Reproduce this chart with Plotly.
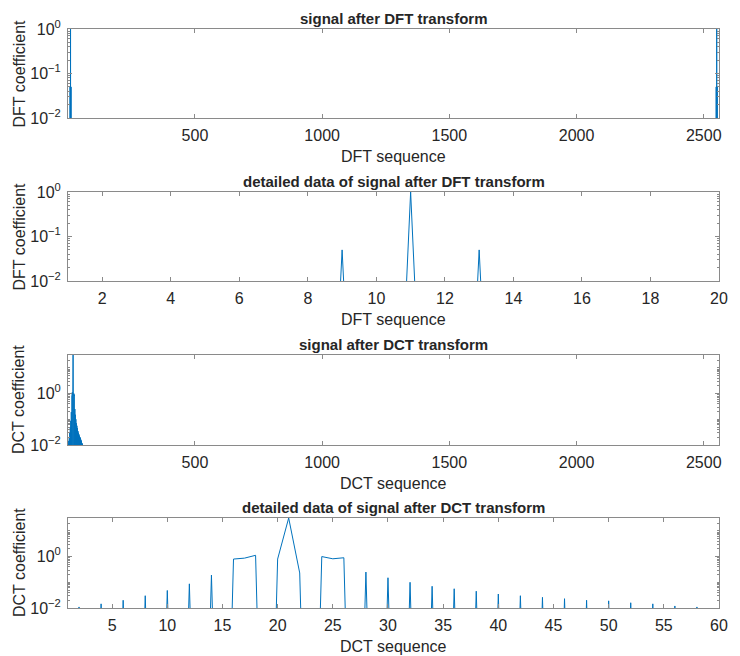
import numpy as np
import plotly.graph_objects as go

# ---------------- data ----------------
N = 2560
TINY_DFT = 1e-17
TINY_DCT = 1e-16

dft_peak_idx = [9, 11, 13, 2549, 2551, 2553]
dft_peak_val = [0.05, 1.0, 0.05, 0.05, 1.0, 0.05]

dct_detail_idx = list(range(1, 61))
dct_detail_val = [
    1e-16, 0.011, 1e-16, 0.0145, 1e-16, 0.020, 1e-16, 0.030, 1e-16, 0.048,
    1e-16, 0.087, 1e-16, 0.19, 1e-16, 0.80, 0.87, 1.12, 1e-16, 0.80,
    31.6, 0.23, 1e-16, 1.00, 0.82, 0.90, 1e-16, 0.25, 1e-16, 0.15,
    1e-16, 0.10, 1e-16, 0.070, 1e-16, 0.056, 1e-16, 0.045, 1e-16, 0.035,
    1e-16, 0.030, 1e-16, 0.026, 1e-16, 0.023, 1e-16, 0.020, 1e-16, 0.019,
    1e-16, 0.016, 1e-16, 0.0145, 1e-16, 0.012, 1e-16, 0.011, 1e-16, 0.0098,
]

titles = ["signal after DFT transform",
          "detailed data of signal after DFT transform",
          "signal after DCT transform",
          "detailed data of signal after DCT transform"]
xtitles = ["DFT sequence", "DFT sequence", "DCT sequence", "DCT sequence"]
ytitles = ["DFT coefficient", "DFT coefficient", "DCT coefficient", "DCT coefficient"]

x_full_ticks = [500, 1000, 1500, 2000, 2500]
x_dft_detail_ticks = [2, 4, 6, 8, 10, 12, 14, 16, 18, 20]
x_dct_detail_ticks = [5, 10, 15, 20, 25, 30, 35, 40, 45, 50, 55, 60]

# build series
seq = np.arange(1, N + 1)
dft_full = np.full(N, TINY_DFT)
for i, v in zip(dft_peak_idx, dft_peak_val):
    dft_full[i - 1] = v
dct_full = np.full(N, TINY_DCT)
for i, v in zip(dct_detail_idx, dct_detail_val):
    dct_full[i - 1] = v

LINE = "#0072BD"
AX = "#8a8a8a"
TXT = "#262626"
FONT = "Liberation Sans, Arial, sans-serif"

fig = go.Figure()
series = [
    (seq, dft_full),
    (seq[:20], dft_full[:20]),
    (seq, dct_full),
    (seq[:60], dct_full[:60]),
]
for k, (xs, ys) in enumerate(series):
    fig.add_trace(go.Scatter(
        x=xs, y=ys, mode="lines",
        line=dict(color=LINE, width=1, simplify=False),
        xaxis="x" if k == 0 else f"x{k+1}",
        yaxis="y" if k == 0 else f"y{k+1}",
        showlegend=False, hoverinfo="skip"))

# layout geometry (pixels)
W, H = 740, 656
ml, mr, mt, mb = 68, 13, 29, 48
ph = H - mt - mb
tops = [29, 192, 355, 518]
bots = [118, 281, 445, 608]
domains = [[(H - mb - b) / ph, (H - mb - t) / ph] for t, b in zip(tops, bots)]

xranges = [[1, 2560], [1, 20], [1, 2560], [1, 60]]
xticks = [x_full_ticks, x_dft_detail_ticks, x_full_ticks, x_dct_detail_ticks]

dft_yvals = [0.01, 0.1, 1]
dft_ytext = ["10<sup>−2</sup>", "10<sup>−1</sup>", "10<sup>0</sup>"]
dct_yvals = [0.01, 1]
dct_ytext = ["10<sup>−2</sup>", "10<sup>0</sup>"]

def minor_vals(lo_exp, hi_exp):
    out = []
    for e in range(lo_exp, hi_exp + 1):
        for m in range(1, 10):
            out.append(m * 10.0 ** e)
    return out

dft_minor = [v for v in minor_vals(-2, 0) if 0.01 <= v <= 1.0001]
dct_minor = [v for v in minor_vals(-2, 1) if 0.01 <= v <= 31.7]

layout = dict(width=W, height=H, margin=dict(l=ml, r=mr, t=mt, b=mb),
              paper_bgcolor="white", plot_bgcolor="white",
              font=dict(family=FONT, color=TXT, size=16))
annotations = []
for k in range(4):
    xa = "xaxis" if k == 0 else f"xaxis{k+1}"
    ya = "yaxis" if k == 0 else f"yaxis{k+1}"
    ylab = "y" if k == 0 else f"y{k+1}"
    xlab = "x" if k == 0 else f"x{k+1}"
    is_dft = k < 2
    layout[xa] = dict(
        domain=[0, 1], anchor=ylab, range=xranges[k],
        tickmode="array", tickvals=xticks[k],
        ticktext=[str(t) for t in xticks[k]],
        ticks="inside", ticklen=4, tickcolor=AX, tickwidth=1,
        showline=True, linecolor=AX, linewidth=1, mirror="ticks",
        showgrid=False, zeroline=False,
        tickfont=dict(size=16, color=TXT, family=FONT),
        ticklabelstandoff=3)
    layout[ya] = dict(
        domain=domains[k], anchor=xlab, type="log",
        range=[-2, 0] if is_dft else [-2, 1.5],
        tickmode="array",
        tickvals=dft_yvals if is_dft else dct_yvals,
        ticktext=dft_ytext if is_dft else dct_ytext,
        ticks="inside", ticklen=4, tickcolor=AX, tickwidth=1,
        minor=dict(tickmode="array",
                   tickvals=dft_minor if is_dft else dct_minor,
                   ticks="inside", ticklen=2, tickcolor=AX, showgrid=False),
        showline=True, linecolor=AX, linewidth=1, mirror="ticks",
        showgrid=False, zeroline=False,
        tickfont=dict(size=16, color=TXT, family=FONT),
        ticklabelstandoff=3)
    annotations.append(dict(
        text=f"<b>{titles[k]}</b>", xref=f"{xlab} domain", yref=f"{ylab} domain",
        x=0.5, y=1, xanchor="center", yanchor="bottom", yshift=0, showarrow=False,
        font=dict(size=15, color=TXT, family=FONT)))
    annotations.append(dict(
        text=xtitles[k], xref=f"{xlab} domain", yref=f"{ylab} domain",
        x=0.5, y=0, xanchor="center", yanchor="top", yshift=-28, showarrow=False,
        font=dict(size=16, color=TXT, family=FONT)))
    annotations.append(dict(
        text=ytitles[k], xref="paper", yref=f"{ylab} domain",
        x=0, y=0.5, xanchor="center", yanchor="middle", xshift=-49,
        textangle=-90, showarrow=False,
        font=dict(size=16, color=TXT, family=FONT)))
layout["annotations"] = annotations
fig.update_layout(**layout)

fig.write_html("out.html")
